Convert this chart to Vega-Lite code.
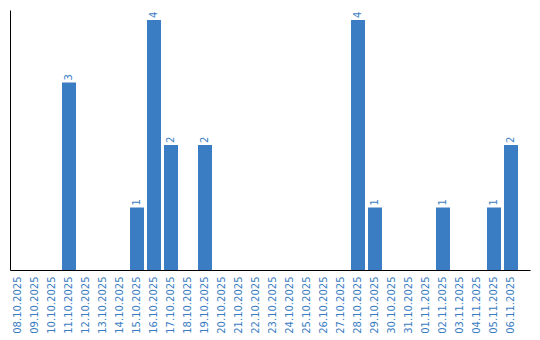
{
  "$schema": "https://vega.github.io/schema/vega-lite/v6.json",
  "width": 520,
  "height": 260,
  "autosize": {"type": "none"},
  "padding": {"left": 10, "top": 10, "right": 10, "bottom": 70},
  "background": "white",
  "config": {"view": {"stroke": null}, "font": "DejaVu Sans"},
  "data": {"values": [
    {"date": "08.10.2025", "count": 0},
    {"date": "09.10.2025", "count": 0},
    {"date": "10.10.2025", "count": 0},
    {"date": "11.10.2025", "count": 3},
    {"date": "12.10.2025", "count": 0},
    {"date": "13.10.2025", "count": 0},
    {"date": "14.10.2025", "count": 0},
    {"date": "15.10.2025", "count": 1},
    {"date": "16.10.2025", "count": 4},
    {"date": "17.10.2025", "count": 2},
    {"date": "18.10.2025", "count": 0},
    {"date": "19.10.2025", "count": 2},
    {"date": "20.10.2025", "count": 0},
    {"date": "21.10.2025", "count": 0},
    {"date": "22.10.2025", "count": 0},
    {"date": "23.10.2025", "count": 0},
    {"date": "24.10.2025", "count": 0},
    {"date": "25.10.2025", "count": 0},
    {"date": "26.10.2025", "count": 0},
    {"date": "27.10.2025", "count": 0},
    {"date": "28.10.2025", "count": 4},
    {"date": "29.10.2025", "count": 1},
    {"date": "30.10.2025", "count": 0},
    {"date": "31.10.2025", "count": 0},
    {"date": "01.11.2025", "count": 0},
    {"date": "02.11.2025", "count": 1},
    {"date": "03.11.2025", "count": 0},
    {"date": "04.11.2025", "count": 0},
    {"date": "05.11.2025", "count": 1},
    {"date": "06.11.2025", "count": 2}
  ]},
  "encoding": {
    "x": {
      "field": "date", "type": "nominal", "sort": null,
      "scale": {"paddingInner": 0.1765, "paddingOuter": 0.382, "align": 0.077},
      "axis": {
        "title": null, "ticks": false, "labelAngle": -90, "labelAlign": "right", "labelBaseline": "middle",
        "labelPadding": 6, "labelColor": "#3a7dc2", "labelFontSize": 10, "labelFont": "DejaVu Sans",
        "domainColor": "#000000", "domainWidth": 1, "grid": false
      }
    },
    "y": {
      "field": "count", "type": "quantitative",
      "scale": {"domain": [0, 4.16], "nice": false},
      "axis": {"title": null, "labels": false, "ticks": false, "grid": false, "domainColor": "#000000", "domainWidth": 1}
    }
  },
  "layer": [
    {"mark": {"type": "bar", "color": "#3a7dc2"}},
    {
      "transform": [{"filter": "datum.count > 0"}],
      "mark": {"type": "text", "angle": -90, "align": "left", "baseline": "middle", "dx": 2, "color": "#3a7dc2", "fontSize": 10, "font": "DejaVu Sans"},
      "encoding": {"text": {"field": "count", "type": "quantitative"}}
    }
  ]
}
